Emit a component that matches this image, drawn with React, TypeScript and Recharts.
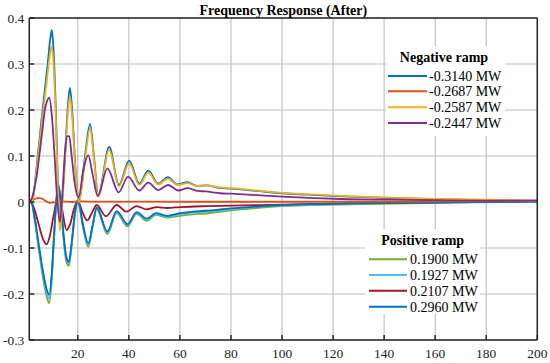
import React from 'react';
import { LineChart, Line, XAxis, YAxis, CartesianGrid } from 'recharts';

const FONT = '"Liberation Serif", "Times New Roman", Times, serif';

const titleText = 'Frequency Response (After)';
const xTicks = [20, 40, 60, 80, 100, 120, 140, 160, 180, 200];
const yTicks = [-0.3, -0.2, -0.1, 0, 0.1, 0.2, 0.3, 0.4];

const negTitle = 'Negative ramp';
const posTitle = 'Positive ramp';

// Negative ramp series: [time, value]
const negBlue = [[1,0],[2,0],[2.6,0.012],[3.2,0.04],[4.3,0.1],[6.2,0.2],[8.2,0.3],[9.2,0.355],[9.8,0.374],[10.5,0.33],[11.4,0.2],[12.2,0.04],[13,-0.055],[14,0.01],[15,0.1],[16,0.2],[16.9,0.248],[17.8,0.2],[19,0.08],[20.5,0.003],[22.6,0.09],[24.8,0.17],[26.4,0.095],[28,0.015],[32.3,0.12],[36.1,0.037],[40.1,0.09],[44.1,0.04],[47.6,0.068],[51.5,0.04],[55.3,0.054],[59,0.038],[62.9,0.043],[66.6,0.035],[70.5,0.036],[75,0.031],[80,0.029],[90,0.024],[100,0.019],[110,0.016],[126,0.0115],[140,0.009],[160,0.006],[180,0.004],[200,0.003]];
const negOrange = [[1,0],[2,0.002],[3,0.006],[4.5,0.009],[6,0.007],[7.5,0.002],[9,-0.002],[10.5,-0.001],[12.5,0.002],[15,0.001],[18,0],[20,0.002],[25,0.001],[40,0.001],[60,0.0005],[100,0.0005],[150,0.001],[200,0.002]];
const negYellow = [[1,0],[2,0],[2.6,0.01],[3.2,0.037],[4.3,0.093],[6.2,0.185],[8.2,0.28],[9.2,0.325],[9.8,0.338],[10.5,0.3],[11.4,0.18],[12.2,0.03],[13,-0.063],[14,0],[15,0.09],[16,0.185],[16.9,0.229],[17.8,0.185],[19,0.075],[20.5,0],[22.6,0.08],[24.8,0.16],[26.4,0.09],[28,0.012],[32.3,0.113],[36.1,0.034],[40.1,0.084],[44.1,0.037],[47.6,0.064],[51.5,0.038],[55.3,0.051],[59,0.037],[62.9,0.041],[66.6,0.035],[70.5,0.036],[75,0.032],[80,0.03],[90,0.025],[100,0.02],[110,0.017],[126,0.0125],[140,0.01],[160,0.007],[180,0.005],[200,0.003]];
const negPurple = [[1,0],[2,0.008],[3,0.03],[4,0.06],[4.9,0.1],[6,0.15],[7.1,0.2],[8,0.22],[8.8,0.227],[9.8,0.19],[10.8,0.11],[12,0],[13,-0.043],[14,0.02],[15,0.11],[15.8,0.143],[16.6,0.143],[17.6,0.1],[18.8,0.04],[20.3,0.01],[22.2,0.07],[24.1,0.102],[25.8,0.06],[27.8,0.013],[31.6,0.073],[36,0.021],[39.7,0.055],[44.1,0.025],[47.6,0.042],[51.5,0.026],[55.4,0.037],[59.4,0.025],[62.9,0.03],[67,0.024],[70,0.023],[75.7,0.019],[80,0.018],[90,0.015],[100,0.0115],[126,0.006],[140,0.005],[160,0.004],[180,0.003],[200,0.003]];

// Positive ramp series
const posGreen = [[1,0],[1.8,0],[3,-0.035],[4.9,-0.11],[6.5,-0.17],[7.8,-0.205],[8.8,-0.22],[9.8,-0.17],[10.8,-0.07],[12.3,0.035],[13.3,0],[14.5,-0.085],[15.6,-0.132],[16.5,-0.139],[17.5,-0.1],[18.8,-0.03],[20,0],[22.2,-0.06],[24.1,-0.098],[25.8,-0.055],[27.4,-0.016],[31.6,-0.07],[35.2,-0.024],[39.5,-0.053],[43,-0.026],[47,-0.041],[50.6,-0.028],[54.8,-0.034],[60,-0.03],[65,-0.027],[70,-0.025],[80,-0.018],[90,-0.013],[100,-0.009],[126,-0.005],[150,-0.003],[175,-0.001],[200,0]];
const posCyan = [[1,0],[1.8,0],[3,-0.032],[4.9,-0.105],[6.5,-0.162],[7.8,-0.197],[8.8,-0.21],[9.8,-0.162],[10.8,-0.065],[12.3,0.038],[13.3,0.002],[14.5,-0.08],[15.6,-0.127],[16.5,-0.134],[17.5,-0.097],[18.8,-0.029],[20,0.002],[22.2,-0.057],[24.1,-0.094],[25.8,-0.052],[27.4,-0.014],[31.6,-0.066],[35.2,-0.022],[39.5,-0.05],[43,-0.024],[47,-0.038],[50.6,-0.026],[54.8,-0.032],[60,-0.027],[65,-0.023],[70,-0.021],[80,-0.016],[90,-0.011],[100,-0.0075],[126,-0.004],[150,-0.002],[175,0],[200,0.001]];
const posRed = [[1,0],[2,-0.003],[3,-0.016],[4.5,-0.045],[6,-0.075],[7,-0.088],[7.8,-0.092],[9,-0.075],[10.5,-0.03],[12.7,0.019],[14,-0.02],[15.6,-0.061],[17,-0.048],[18.5,-0.015],[20,0.003],[21.8,-0.022],[23.7,-0.04],[25.5,-0.024],[27.4,-0.0065],[31,-0.031],[35.2,-0.0065],[39.1,-0.021],[43,-0.009],[47,-0.016],[51,-0.011],[55,-0.013],[60,-0.011],[70,-0.009],[80,-0.008],[100,-0.0055],[126,-0.003],[160,-0.001],[200,0.002]];
const posBlue = [[1,0],[1.8,0],[3,-0.03],[4.9,-0.1],[6.5,-0.155],[7.8,-0.19],[8.8,-0.202],[9.8,-0.155],[10.8,-0.06],[12.3,0.04],[13.3,0.004],[14.5,-0.075],[15.6,-0.122],[16.5,-0.13],[17.5,-0.093],[18.8,-0.027],[20,0.004],[22.2,-0.054],[24.1,-0.09],[25.8,-0.05],[27.4,-0.012],[31.6,-0.064],[35.2,-0.02],[39.5,-0.048],[43,-0.022],[47,-0.036],[50.6,-0.024],[54.8,-0.03],[60,-0.024],[65,-0.021],[70,-0.019],[80,-0.014],[90,-0.01],[100,-0.0065],[126,-0.003],[150,-0.0015],[175,0],[200,0.001]];

const negLabels = ['-0.3140 MW', '-0.2687 MW', '-0.2587 MW', '-0.2447 MW'];
const posLabels = ['0.1900 MW', '0.1927 MW', '0.2107 MW', '0.2960 MW'];
const negColors = ['#0072BD', '#D95319', '#EDB120', '#7E2F8E'];
const posColors = ['#77AC30', '#4DBEEE', '#A2142F', '#0072BD'];
const negData = [negBlue, negOrange, negYellow, negPurple];
const posData = [posGreen, posCyan, posRed, posBlue];

const SERIES = [
  ...posData.map((d, i) => ({ d, c: posColors[i], k: 'p' + i })),
  ...negData.map((d, i) => ({ d, c: negColors[i], k: 'n' + i })),
];

// merged table for the chart, built from the arrays above
const table = (() => {
  const m = new Map<number, any>();
  SERIES.forEach((s) => s.d.forEach(([x, y]) => {
    if (!m.has(x)) m.set(x, { x });
    m.get(x)[s.k] = y;
  }));
  return Array.from(m.values()).sort((a, b) => a.x - b.x);
})();

const fmtY = (v: number) => (Math.abs(v) < 1e-9 ? '0' : v.toFixed(1));

const AX = '#262626';

function XTick(props: any) {
  const { x, y, payload } = props;
  return (
    <text x={x} y={y} dy="0.71em" textAnchor="middle" fill="#262626" style={{ fontFamily: FONT, fontSize: 13.5 }}>
      {payload.value}
    </text>
  );
}
function YTick(props: any) {
  const { x, y, payload } = props;
  return (
    <text x={x} y={y} dy="0.355em" textAnchor="end" fill="#262626" style={{ fontFamily: FONT, fontSize: 13.5 }}>
      {fmtY(payload.value)}
    </text>
  );
}

function LegendBox({ x, y, w, h, title, titleX, titleY, labels, colors, lineX1, lineX2, textX, rows }: any) {
  return (
    <g>
      <rect x={x} y={y} width={w} height={h} fill="#ffffff" />
      <text x={titleX} y={titleY} textAnchor="middle" style={{ fontFamily: FONT, fontWeight: 'bold', fontSize: 14 }} fill="#000">{title}</text>
      {labels.map((lab: string, i: number) => (
        <g key={lab}>
          <line x1={lineX1} x2={lineX2} y1={rows[i]} y2={rows[i]} stroke={colors[i]} strokeWidth={2} />
          <text x={textX} y={rows[i] + 4.8} style={{ fontFamily: FONT, fontSize: 14 }} fill="#000">{lab}</text>
        </g>
      ))}
    </g>
  );
}

export default function App() {
  return (
    <div style={{ position: 'absolute', left: 0, top: 0, width: 550, height: 363, background: '#fff', fontFamily: FONT }}>
      <LineChart width={550} height={363} data={table} margin={{ top: 17, right: 11.7, bottom: 0, left: 0.3 }}>
        <CartesianGrid stroke="#bdbdbd" strokeWidth={1.1} />
        <XAxis
          type="number"
          dataKey="x"
          domain={[1, 200]}
          ticks={xTicks}
          height={23}
          tickSize={-5}
          tickMargin={13}
          stroke={AX}
          strokeWidth={1.5}
          tick={<XTick />}
          allowDataOverflow
        />
        <XAxis
          xAxisId="t"
          orientation="top"
          type="number"
          dataKey="x"
          domain={[1, 200]}
          ticks={xTicks}
          height={1}
          tickSize={-5}
          tick={false}
          stroke={AX}
          strokeWidth={1.5}
        />
        <YAxis
          type="number"
          domain={[-0.3, 0.4]}
          ticks={yTicks}
          width={29}
          tickSize={-5}
          tickMargin={10}
          stroke={AX}
          strokeWidth={1.5}
          tick={<YTick />}
          allowDataOverflow
        />
        <YAxis
          yAxisId="r"
          orientation="right"
          type="number"
          domain={[-0.3, 0.4]}
          ticks={yTicks}
          width={1}
          tickSize={-5}
          tick={false}
          stroke={AX}
          strokeWidth={1.5}
        />
        {SERIES.map((s) => (
          <Line
            key={s.k}
            dataKey={s.k}
            type="monotone"
            connectNulls
            stroke={s.c}
            strokeWidth={1.8}
            dot={false}
            isAnimationActive={false}
          />
        ))}
      </LineChart>
      <svg width={550} height={363} style={{ position: 'absolute', left: 0, top: 0, pointerEvents: 'none' }}>
        <text x={283.3} y={15} textAnchor="middle" style={{ fontFamily: FONT, fontWeight: 'bold', fontSize: 14 }} fill="#000">{titleText}</text>
        <LegendBox x={386} y={46} w={119} h={90} title={negTitle} titleX={444} titleY={61.7}
          labels={negLabels} colors={negColors} lineX1={388} lineX2={427} textX={429}
          rows={[76, 91.3, 107.3, 123]} />
        <LegendBox x={365} y={229} w={115} h={85} title={posTitle} titleX={422.7} titleY={245}
          labels={posLabels} colors={posColors} lineX1={369} lineX2={407} textX={410}
          rows={[259.3, 275, 290.7, 306.7]} />
      </svg>
    </div>
  );
}
